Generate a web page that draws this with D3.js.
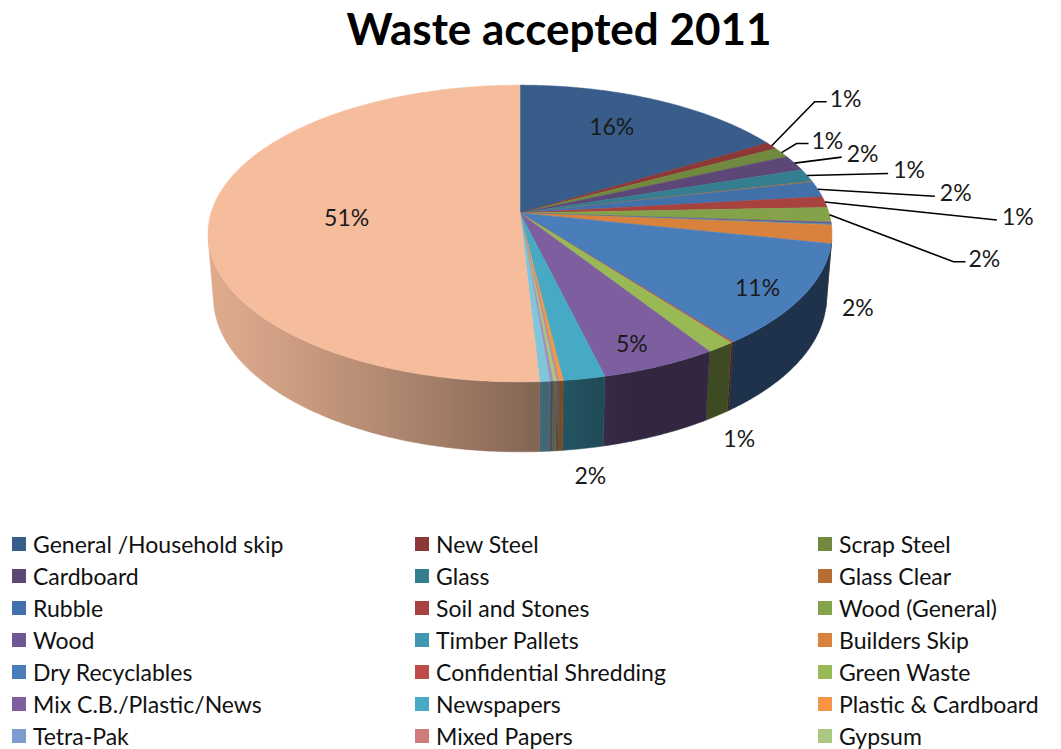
<!DOCTYPE html>
<html>
<head>
<meta charset="utf-8">
<script src="https://cdn.jsdelivr.net/npm/d3@7"></script>
<style>
  html, body { margin: 0; padding: 0; background: #fff; overflow: hidden; }
  svg { display: block; }
  text { font-family: Lato, "Open Sans", sans-serif; }
</style>
</head>
<body>
<svg id="chart" width="1061" height="749"></svg>
<script>
// ---- data -------------------------------------------------------------
const titleText = "Waste accepted 2011";

const categories = [
  "General /Household skip", "New Steel", "Scrap Steel",
  "Cardboard", "Glass", "Glass Clear",
  "Rubble", "Soil and Stones", "Wood (General)",
  "Wood", "Timber Pallets", "Builders Skip",
  "Dry Recyclables", "Confidential Shredding", "Green Waste",
  "Mix C.B./Plastic/News", "Newspapers", "Plastic & Cardboard",
  "Tetra-Pak", "Mixed Papers", "Gypsum",
  "Textiles", "Plastic Bottles", "Landfill Waste"
];

// share of total tonnage, percent
const shares = [
  16.4, 0.8, 1.1,
  1.7, 1.4, 0.1,
  1.7, 1.2, 1.6,
  0.2, 0.1, 2.0,
  11.2, 0.1, 1.3,
  5.3, 1.9, 0.2,
  0.05, 0.05, 0.15,
  0.15, 0.45, 50.9
];

const colors = [
  "#385D8A", "#8C3836", "#71893F",
  "#5C4776", "#357D91", "#B66D31",
  "#4170AA", "#A7423F", "#84A24A",
  "#6E5793", "#3F97B0", "#D9823D",
  "#4A7EBB", "#BE4B48", "#98B954",
  "#7D5FA0", "#46AAC5", "#F69546",
  "#7C9DD0", "#CF7B79", "#ABC77F",
  "#A390BC", "#7FC6DA", "#F6BD9C"
];

// ---- label placement (layout only) -----------------------------------
const labelPlacement = {
  "General /Household skip": { mode: "inside", r: 0.65, dy: -11 },
  "Landfill Waste":          { mode: "inside", r: 0.56, dy: 2 },
  "Dry Recyclables":         { mode: "inside", r: 0.85, dy: 4 },
  "Mix C.B./Plastic/News":   { mode: "inside", r: 0.82, dy: 8 },
  "New Steel":      { mode: "leader", dx: 43,  dy: -44 },
  "Scrap Steel":    { mode: "leader", dx: 15,  dy: -9 },
  "Cardboard":      { mode: "leader", dx: 47,  dy: -6 },
  "Glass":          { mode: "leader", dx: 81,  dy: -2 },
  "Rubble":         { mode: "leader", dx: 117, dy: 7 },
  "Soil and Stones":{ mode: "leader", dx: 172, dy: 18 },
  "Wood (General)": { mode: "leader", dx: 124, dy: 47 },
  "Builders Skip":  { mode: "outside" },
  "Green Waste":    { mode: "outside" },
  "Newspapers":     { mode: "outside" }
};

// ---- 3-D perspective view of a unit disc -----------------------------
const W = 1061, H = 749;
const view = { cx: 520, cy: 213, tilt: 28.1 * Math.PI / 180, dist: 6.388, focal: 1974, depth: 0.2366 };
const sinT = Math.sin(view.tilt), cosT = Math.cos(view.tilt);

function project(x, y, z) {
  const yc = z * sinT - y * cosT;
  const d = view.dist - z * cosT - y * sinT;
  return [view.cx + view.focal * x / d, view.cy + view.focal * yc / d];
}
// angle a measured clockwise from the far side (12 o'clock)
function rimPoint(a, r = 1, y = 0) {
  return project(r * Math.sin(a), y, -r * Math.cos(a));
}

// outer wall faces the camera where cos(a) < -1/(dist*cos(tilt))
const visLimit = Math.acos(-1 / (view.dist * cosT));
const visStart = visLimit, visEnd = 2 * Math.PI - visLimit;

const lightDir = 252 * Math.PI / 180;
function wallShade(base, a) {
  const f = 0.40 + 0.5 * Math.max(0, Math.cos(a - lightDir));
  const c = d3.rgb(base);
  return d3.rgb(c.r * f, c.g * f, c.b * f).formatHex();
}

const records = categories.map((name, i) => ({ name, value: shares[i], color: colors[i] }));
const total = d3.sum(records, d => d.value);
const pct = d3.format(".0%");

const arcs = d3.pie().sort(null).value(d => d.value)(records);

const svg = d3.select("#chart");
const defs = svg.append("defs");

function arcPoints(a0, a1, r, y) {
  const n = Math.max(2, Math.ceil((a1 - a0) / (0.4 * Math.PI / 180)));
  return d3.range(n + 1).map(k => rimPoint(a0 + (a1 - a0) * k / n, r, y));
}

// ---- outer walls -----------------------------------------------------
const wallG = svg.append("g");
arcs.forEach((d, i) => {
  const a0 = Math.max(d.startAngle, visStart), a1 = Math.min(d.endAngle, visEnd);
  if (a1 <= a0) return;
  const topPts = arcPoints(a0, a1, 1, 0);
  const botPts = arcPoints(a0, a1, 1, -view.depth).reverse();
  const pts = topPts.concat(botPts);
  const x1 = rimPoint(a0)[0], x2 = rimPoint(a1)[0];
  let fill;
  if (Math.abs(x2 - x1) < 1) {
    fill = wallShade(d.data.color, (a0 + a1) / 2);
  } else {
    const id = "wall" + i;
    const g = defs.append("linearGradient").attr("id", id)
      .attr("gradientUnits", "userSpaceOnUse")
      .attr("x1", x1).attr("x2", x2).attr("y1", 0).attr("y2", 0);
    const m = Math.max(2, Math.ceil((a1 - a0) / (2 * Math.PI / 180)));
    d3.range(m + 1).forEach(k => {
      const a = a0 + (a1 - a0) * k / m;
      g.append("stop")
        .attr("offset", (rimPoint(a)[0] - x1) / (x2 - x1))
        .attr("stop-color", wallShade(d.data.color, a));
    });
    fill = `url(#${id})`;
  }
  wallG.append("path")
    .attr("d", "M" + pts.map(p => p.join(",")).join("L") + "Z")
    .attr("fill", fill)
    .attr("stroke", fill)
    .attr("stroke-width", 0.5);
});

// ---- top faces -------------------------------------------------------
const topG = svg.append("g");
const centre = rimPoint(0, 0);
arcs.forEach(d => {
  const pts = [centre].concat(arcPoints(d.startAngle, d.endAngle, 1, 0));
  topG.append("path")
    .attr("d", "M" + pts.map(p => p.join(",")).join("L") + "Z")
    .attr("fill", d.data.color)
    .attr("stroke", d.data.color)
    .attr("stroke-width", 0.5);
});

// ---- data labels -----------------------------------------------------
const labelG = svg.append("g").attr("font-size", 23).attr("fill", "#1a1a1a");
arcs.forEach(d => {
  const place = labelPlacement[d.data.name];
  const share = d.data.value / total;
  if (!place || Math.round(share * 100) < 1) return;
  const mid = (d.startAngle + d.endAngle) / 2;
  const text = pct(share);
  if (place.mode === "inside") {
    const p = rimPoint(mid, place.r);
    labelG.append("text").attr("x", p[0]).attr("y", p[1] + (place.dy || 0))
      .attr("text-anchor", "middle").attr("dominant-baseline", "central").text(text);
  } else if (place.mode === "outside") {
    const p = rimPoint(mid, 1.1, -view.depth);
    labelG.append("text").attr("x", p[0]).attr("y", p[1] + 6)
      .attr("text-anchor", "middle").attr("dominant-baseline", "central").text(text);
  } else {
    const start = rimPoint(mid);
    const end = [start[0] + place.dx, start[1] + place.dy];
    const steep = Math.abs(place.dy / place.dx) > 0.3;
    const pts = [start, end];
    if (steep) pts.push([end[0] + 12, end[1]]);
    labelG.append("path")
      .attr("d", "M" + pts.map(p => p.join(",")).join("L"))
      .attr("fill", "none").attr("stroke", "#000").attr("stroke-width", 1.6);
    const last = pts[pts.length - 1];
    labelG.append("text").attr("x", last[0] + (steep ? 3 : 5)).attr("y", last[1] - 4)
      .attr("dominant-baseline", "central").text(text);
  }
});

// ---- title -----------------------------------------------------------
svg.append("text")
  .attr("x", 559).attr("y", 28)
  .attr("text-anchor", "middle").attr("dominant-baseline", "central")
  .attr("font-size", 44).attr("font-weight", "bold").attr("fill", "#000")
  .text(titleText);

// ---- legend: as many rows as fit in the chart area ---------------------
const legendCol = d3.scalePoint().domain([0, 1, 2]).range([12, 818]);
const legendTop = 544, legendStep = 32;
const legendRows = Math.floor((H - 12 - legendTop) / legendStep) + 1;
const legendItems = records.slice(0, legendRows * 3);
const legend = svg.append("g").attr("font-size", 23).attr("fill", "#111");
legendItems.forEach((d, i) => {
  const x = legendCol(i % 3), y = legendTop + Math.floor(i / 3) * legendStep;
  legend.append("rect").attr("x", x).attr("y", y - 7).attr("width", 14).attr("height", 14)
    .attr("fill", d.color);
  legend.append("text").attr("x", x + 21).attr("y", y)
    .attr("dominant-baseline", "central").text(d.name);
});
</script>
</body>
</html>
